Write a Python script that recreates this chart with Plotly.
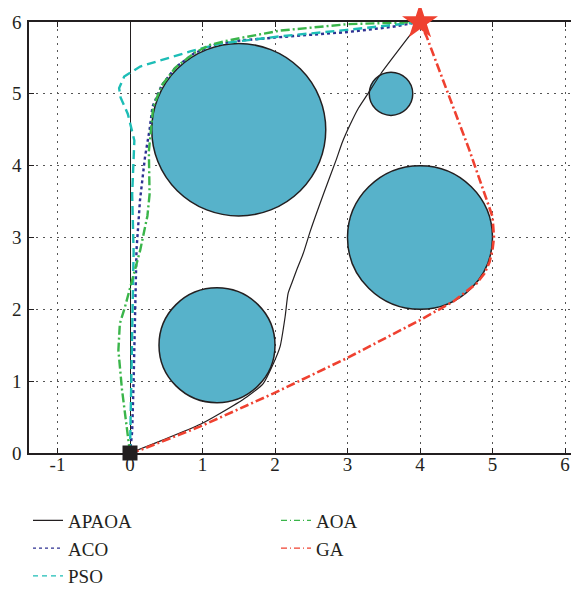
import plotly.graph_objects as go

# ---------------- data ----------------
apaoa_x = [0, 0.45, 0.97, 1.24, 1.61, 1.84, 1.98, 2.07, 2.14, 2.18, 2.23, 2.30, 2.39, 2.49, 2.67, 2.84, 2.93, 3.04, 3.15, 3.28, 3.46, 3.91, 4.0]
apaoa_y = [0, 0.18, 0.40, 0.55, 0.78, 0.97, 1.25, 1.48, 1.90, 2.22, 2.36, 2.55, 2.78, 3.10, 3.61, 4.07, 4.33, 4.58, 4.80, 5.0, 5.28, 5.88, 6.0]

aco_x = [0, 0.03, 0.05, 0.07, 0.09, 0.138, 0.207, 0.27, 0.31, 0.435, 0.63, 0.885, 1.18, 1.5, 2.07, 3.0, 3.6, 4.0]
aco_y = [0, 0.3, 1.0, 2.0, 2.83, 3.52, 4.12, 4.5, 4.82, 5.115, 5.37, 5.565, 5.69, 5.74, 5.79, 5.86, 5.93, 6.0]

pso_x = [0, 0.02, 0.03, 0.05, 0.03, 0.05, 0.06, -0.03, -0.13, -0.15, -0.08, 0.14, 0.51, 0.83, 1.24, 2.07, 2.99, 3.68, 4.0]
pso_y = [0, 1.0, 2.0, 2.8, 3.6, 4.0, 4.35, 4.72, 4.95, 5.08, 5.24, 5.38, 5.49, 5.59, 5.70, 5.80, 5.89, 5.97, 6.0]

aoa_x = [0, -0.04, -0.11, -0.16, -0.14, -0.07, 0.03, 0.14, 0.24, 0.27, 0.26, 0.29, 0.32, 0.44, 0.63, 0.89, 1.1, 1.38, 2.07, 3.0, 4.0]
aoa_y = [0, 0.32, 0.88, 1.43, 1.80, 2.03, 2.40, 2.82, 3.30, 3.60, 4.20, 4.50, 4.82, 5.12, 5.37, 5.57, 5.68, 5.75, 5.88, 5.97, 6.0]

ga_x = [0, 0.14, 0.97, 1.98, 2.99, 4.0, 4.46, 4.78, 4.89, 4.96, 5.0, 5.02, 5.0, 4.92, 4.68, 4.09, 4.0]
ga_y = [0, 0.04, 0.37, 0.83, 1.32, 1.85, 2.11, 2.36, 2.50, 2.66, 2.83, 3.0, 3.29, 3.52, 4.22, 5.80, 6.0]

obstacle_cx = [1.5, 3.6, 4.0, 1.2]
obstacle_cy = [4.5, 5.0, 3.0, 1.5]
obstacle_r = [1.2, 0.3, 1.0, 0.8]

start_pt = [0, 0]
goal_pt = [4, 6]

x_ticks = [-1, 0, 1, 2, 3, 4, 5, 6]
x_tick_text = ["-1", "0", "1", "2", "3", "4", "5", "6"]
y_ticks = [0, 1, 2, 3, 4, 5, 6]

names = ["APAOA", "ACO", "PSO", "AOA", "GA"]
colors = ["#231f20", "#2e3192", "#1dbdb6", "#3ab54a", "#ef4130"]
dashes = ["solid", "dot", "9px,5px", "9px,3px,2px,3px", "9px,3px,2px,3px"]
widths = [1.2, 2.4, 2.4, 2.4, 2.6]
shapes_ = ["spline", "linear", "linear", "linear", "linear"]
legend_rank = [1, 3, 5, 2, 4]

FONT = "Liberation Serif"

fig = go.Figure()

paths = [(apaoa_x, apaoa_y), (aco_x, aco_y), (pso_x, pso_y), (aoa_x, aoa_y), (ga_x, ga_y)]
for (px, py), nm, c, d, w, s in zip(paths, names, colors, dashes, widths, shapes_):
    fig.add_trace(go.Scatter(x=px, y=py, mode="lines", name=nm, showlegend=False,
                             line=dict(color=c, dash=d, width=w, shape=s, smoothing=0.6)))

# legend entries (thin samples like the original)
leg_dash = ["solid", "dot", "5px,4px", "6px,3px,1px,3px", "6px,3px,1px,3px"]
for nm, c, d, r in zip(names, colors, leg_dash, legend_rank):
    fig.add_trace(go.Scatter(x=[None], y=[None], mode="lines", name=nm, legendrank=r,
                             line=dict(color=c, dash=d, width=1.2)))

# start / goal markers
fig.add_trace(go.Scatter(x=[start_pt[0]], y=[start_pt[1]], mode="markers", showlegend=False,
                         cliponaxis=False,
                         marker=dict(symbol="square", size=15, color="#231f20")))
fig.add_trace(go.Scatter(x=[goal_pt[0]], y=[goal_pt[1]], mode="markers", showlegend=False,
                         cliponaxis=False,
                         marker=dict(symbol="star", size=27, color="#ef4130",
                                     line=dict(width=0))))

for cx, cy, r in zip(obstacle_cx, obstacle_cy, obstacle_r):
    fig.add_shape(type="circle", xref="x", yref="y",
                  x0=cx - r, x1=cx + r, y0=cy - r, y1=cy + r,
                  fillcolor="#57b2ca", line=dict(color="#231f20", width=1.5),
                  layer="between")

axis_common = dict(
    showline=True, linecolor="#231f20", linewidth=1.5,
    ticks="inside", ticklen=5, tickcolor="#231f20", tickwidth=1,
    showgrid=True, gridcolor="#555555", gridwidth=1, griddash="2px,5px",
    tickfont=dict(family=FONT, size=19, color="#231f20"),
    layer="below traces", automargin=False,
)

fig.update_xaxes(range=[-1.393, 6.193], tickmode="array", tickvals=x_ticks, ticktext=x_tick_text,
                 mirror="ticks", ticklabelstandoff=-7,
                 zeroline=True, zerolinecolor="#231f20", zerolinewidth=1.2, **axis_common)
fig.update_yaxes(range=[0, 6], tickmode="array", tickvals=y_ticks, ticklabelstandoff=2,
                 zeroline=False, **axis_common)

# page body has an 8px default margin, so the figure is 8px smaller than the window
W, H = 571, 589
fig.update_layout(
    width=W, height=H,
    margin=dict(l=21, r=0, t=14, b=144),
    paper_bgcolor="white", plot_bgcolor="white",
    font=dict(family=FONT, size=19, color="#231f20"),
    legend=dict(orientation="h", xref="container", yref="container",
                x=20 / W, y=1 - 493.6 / H, xanchor="left", yanchor="top",
                entrywidth=203, entrywidthmode="pixels",
                font=dict(family=FONT, size=19, color="#231f20"),
                bgcolor="rgba(0,0,0,0)"),
)

fig.write_html("out.html")
